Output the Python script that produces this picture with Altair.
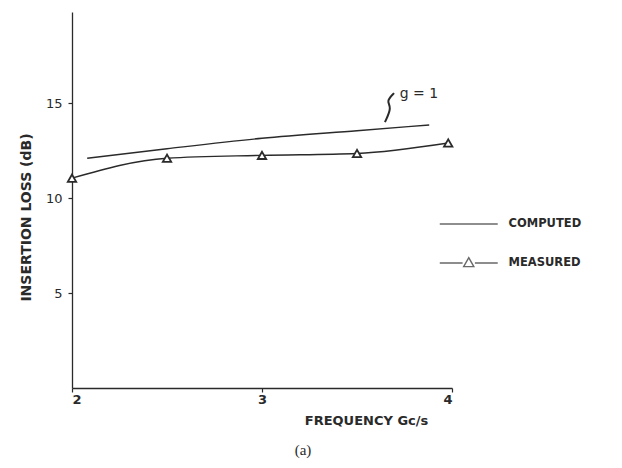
import altair as alt
import pandas as pd

# Computed curve (g = 1)
comp_x = [2.08, 2.5, 3.0, 3.5, 3.88]
comp_y = [12.1, 12.6, 13.15, 13.55, 13.85]

# Measured points
meas_x = [2.0, 2.5, 3.0, 3.5, 3.98]
meas_y = [11.05, 12.1, 12.25, 12.35, 12.9]

series_names = ["COMPUTED", "MEASURED"]

# annotation
note_text = ["g = 1"]
note_x = [3.725]
note_y = [15.5]
squig_x = [3.695, 3.653, 3.684, 3.647]
squig_y = [15.53, 15.1, 14.79, 14.0]

caption = ["(a)"]
caption_x = [3.216]

x_ticks = [2, 3, 4]
y_ticks = [5, 10, 15]

INK = "#2a2a2a"
FONT = "DejaVu Sans"

comp_df = pd.DataFrame({"x": comp_x, "y": comp_y, "series": "COMPUTED"})
meas_df = pd.DataFrame({"x": meas_x, "y": meas_y, "series": "MEASURED"})
legend_df = pd.DataFrame({"series": series_names, "x": [0, 0], "y": [0, 0]})
note_df = pd.DataFrame({"t": note_text, "x": note_x, "y": note_y})
squig_df = pd.DataFrame({"x": squig_x, "y": squig_y, "o": list(range(len(squig_x)))})
cap_df = pd.DataFrame({"t": caption, "x": caption_x})

xscale = alt.Scale(domain=[2, 4], nice=False)
yscale = alt.Scale(domain=[0, 19.8], nice=False)

xenc = alt.X("x:Q", scale=xscale, axis=alt.Axis(
    values=x_ticks, format=".0f", labelOverlap=False, title="FREQUENCY Gc/s", grid=False,
    tickSize=4, labelPadding=1,
    domainColor=INK, tickColor=INK, labelColor=INK, titleColor=INK,
    labelFont=FONT, labelFontSize=13, labelFontWeight="bold",
    titleFont=FONT, titleFontSize=13, titleFontWeight="bold",
    titleX=294, titleY=32, titleBaseline="middle", titleAlign="center",
    domainWidth=1.3, tickWidth=1.2))
yenc = alt.Y("y:Q", scale=yscale, axis=alt.Axis(
    values=y_ticks, title="INSERTION LOSS (dB)", grid=False, tickSize=4, labelPadding=6,
    labelOverlap=False,
    domainColor=INK, tickColor=INK, labelColor=INK, titleColor=INK,
    labelFont=FONT, labelFontSize=13, labelFontWeight="normal",
    titleFont=FONT, titleFontSize=14, titleFontWeight="bold",
    titleAngle=270, titleX=-39, titleY=205, titleBaseline="bottom", titleAlign="center",
    domainWidth=1.3, tickWidth=1.2))

comp_line = alt.Chart(comp_df).mark_line(color=INK, strokeWidth=1.4, interpolate="monotone").encode(
    x=xenc, y=yenc)
meas_line = alt.Chart(meas_df).mark_line(color=INK, strokeWidth=1.4, interpolate="monotone").encode(
    x="x:Q", y="y:Q")
meas_pts = alt.Chart(meas_df).mark_point(
    shape="triangle-up", filled=True, fill="white", stroke=INK, strokeWidth=1.8, size=70, opacity=1
).encode(x="x:Q", y="y:Q")

path_comp = "M-4,0H4"
path_meas = "M-4,0H-0.85M0.85,0H4M0,-0.75L0.7,0.5L-0.7,0.5Z"

legend_pts = alt.Chart(legend_df).mark_point(filled=False, color=INK, strokeWidth=1.4, clip=True).encode(
    x="x:Q", y="y:Q",
    shape=alt.Shape("series:N", scale=alt.Scale(domain=series_names, range=[path_comp, path_meas]),
                    legend=alt.Legend(title=None, orient="none", legendX=388.75, legendY=204,
                                      symbolSize=210, symbolStrokeWidth=1.4, symbolStrokeColor=INK,
                                      symbolFillColor="white",
                                      labelOffset=31.75, rowPadding=24, padding=0,
                                      labelFont=FONT, labelFontSize=11.5, labelFontWeight="bold",
                                      labelColor=INK)))

squig = alt.Chart(squig_df).mark_line(color=INK, strokeWidth=2, interpolate="basis").encode(
    x="x:Q", y="y:Q", order="o:Q")
note = alt.Chart(note_df).mark_text(align="left", baseline="middle", font=FONT, fontSize=14,
                                    color=INK).encode(x="x:Q", y="y:Q", text="t:N")
cap = alt.Chart(cap_df).mark_text(align="center", baseline="middle", font="Liberation Serif",
                                  fontSize=15, color=INK).encode(x="x:Q", y=alt.value(438), text="t:N")

chart = alt.layer(comp_line, meas_line, meas_pts, legend_pts, squig, note, cap).properties(
    width=380, height=376,
    autosize=alt.AutoSizeParams(type="none"),
    padding={"left": 64, "top": 4, "right": 162, "bottom": 72},
    background="white",
).configure_view(stroke=None)

chart.save("out.html", embed_options={"renderer": "svg", "actions": False})
